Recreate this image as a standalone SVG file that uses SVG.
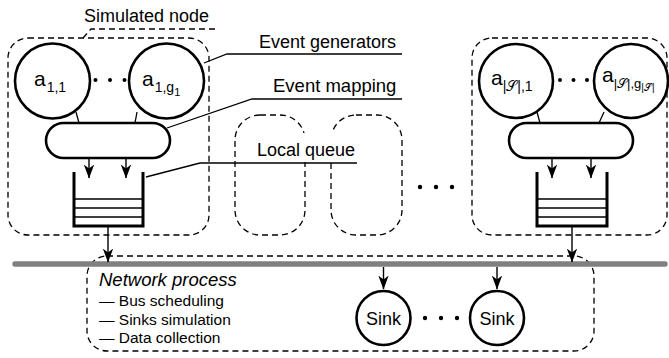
<svg xmlns="http://www.w3.org/2000/svg" width="669" height="358" viewBox="0 0 669 358">
<defs>
<marker id="ah" markerUnits="userSpaceOnUse" markerWidth="14" markerHeight="12" viewBox="0 0 14 12" refX="13.5" refY="6" orient="auto">
<path d="M0,0.8 L14,6 L0,11.2 L4,6 z" fill="#000"/>
</marker>
</defs>
<style>
text{font-family:"Liberation Sans",Arial,sans-serif;fill:#000}
.lbl{font-size:18px}
.dash{fill:none;stroke:#000;stroke-width:1.3;stroke-dasharray:6 4}
.thick{fill:#fff;stroke:#000;stroke-width:2.6}
.wall{fill:none;stroke:#000;stroke-width:3}
.slot{fill:none;stroke:#000;stroke-width:1.6}
.ln{fill:none;stroke:#000;stroke-width:1.3}
.arr{fill:none;stroke:#000;stroke-width:1.4;marker-end:url(#ah)}
.main{font-size:21px}
.sub{font-size:14px}
.sub2{font-size:11px}
.dot{fill:#000}
</style>

<g id="node-left">
<rect class="dash" x="8" y="38" width="201" height="197" rx="20"/>
<circle class="thick" cx="52.5" cy="81" r="37.5"/>
<text class="main" x="34" y="86">a<tspan class="sub" dx="1" dy="6">1,1</tspan></text>
<circle class="thick" cx="166.5" cy="81" r="37.5"/>
<text class="main" x="142" y="86">a<tspan class="sub" dx="1" dy="6">1,g</tspan><tspan class="sub2" dy="4">1</tspan></text>
<circle class="dot" cx="95.5" cy="80" r="2"/><circle class="dot" cx="110" cy="80" r="2"/><circle class="dot" cx="124.5" cy="80" r="2"/>
<rect class="thick" x="46" y="123" width="124" height="35" rx="17.5"/>
<path class="wall" d="M74,172 V226 H143 V172"/>
<path class="slot" d="M74,199 H143 M74,208 H143 M74,217 H143"/>
</g>

<g id="node-mid1"><rect class="dash" x="235" y="115" width="70" height="120" rx="25"/></g>
<g id="node-mid2"><rect class="dash" x="331" y="115" width="71" height="120" rx="25"/></g>

<g id="node-right">
<rect class="dash" x="472" y="38" width="195" height="197" rx="20"/>
<circle class="thick" cx="516" cy="81" r="37"/>
<text class="main" x="491" y="85">a<tspan class="sub" dy="6">|𝒮|,1</tspan></text>
<circle class="thick" cx="631" cy="81" r="37"/>
<text class="main" x="602" y="82">a<tspan class="sub" dy="6" style="font-size:13px">|𝒮|,g</tspan><tspan class="sub2" dy="3" style="font-size:10px">|𝒮|</tspan></text>
<circle class="dot" cx="560" cy="80" r="2"/><circle class="dot" cx="573.5" cy="80" r="2"/><circle class="dot" cx="587" cy="80" r="2"/>
<rect class="thick" x="509" y="123" width="124" height="35" rx="17.5"/>
<path class="wall" d="M537,172 V226 H607 V172"/>
<path class="slot" d="M537,199 H607 M537,208 H607 M537,217 H607"/>
</g>

<g id="dots-mid">
<circle class="dot" cx="420" cy="187" r="2.2"/><circle class="dot" cx="436" cy="187" r="2.2"/><circle class="dot" cx="452" cy="187" r="2.2"/>
</g>

<rect x="250" y="133" width="110" height="29" fill="#fff"/>

<g id="network">
<rect class="dash" x="87" y="256" width="507" height="95" rx="20"/>
<text x="99" y="286" font-style="italic" style="font-size:18.5px">Network process</text>
<text x="99" y="306" style="font-size:15.5px">— Bus scheduling</text>
<text x="99" y="324.5" style="font-size:15.5px">— Sinks simulation</text>
<text x="99" y="343" style="font-size:15.5px">— Data collection</text>
</g>

<g id="sink1"><circle class="thick" cx="383.5" cy="318" r="27"/><text class="lbl" x="383.5" y="324.5" text-anchor="middle">Sink</text></g>
<g id="sink2"><circle class="thick" cx="497" cy="318" r="27"/><text class="lbl" x="497" y="324.5" text-anchor="middle">Sink</text></g>
<g id="dots-sink">
<circle class="dot" cx="425" cy="318" r="2.2"/><circle class="dot" cx="441" cy="318" r="2.2"/><circle class="dot" cx="457" cy="318" r="2.2"/>
</g>

<g id="bus"><line x1="15" y1="264" x2="665" y2="264" stroke="#808080" stroke-width="5.5" stroke-linecap="round"/></g>

<g id="labels">
<text class="lbl" x="84" y="22">Simulated node</text>
<text class="lbl" x="259" y="48">Event generators</text>
<text class="lbl" x="273" y="91.5" style="font-size:18.5px">Event mapping</text>
<text class="lbl" x="257" y="156">Local queue</text>
</g>

<g id="connectors">
<path class="dash" d="M83,38 L91,29 H215"/>
<path class="ln" d="M204,63 L227,54 H402"/>
<path class="ln" d="M167,128 L252,99 H402"/>
<path class="ln" d="M146,177 L200,163 H357"/>
<path class="ln" d="M76,112 L79,123 M137,112 L135,123 M537,112 L540,123 M604,112 L599,123"/>
<path class="arr" d="M89,158 V178"/>
<path class="arr" d="M126,158 V178"/>
<path class="arr" d="M552,158 V178"/>
<path class="arr" d="M591,158 V178"/>
<path class="arr" d="M108,226 V262"/>
<path class="arr" d="M572,226 V262"/>
<path class="arr" d="M383.5,267 V289"/>
<path class="arr" d="M497,267 V289"/>
</g>
</svg>
